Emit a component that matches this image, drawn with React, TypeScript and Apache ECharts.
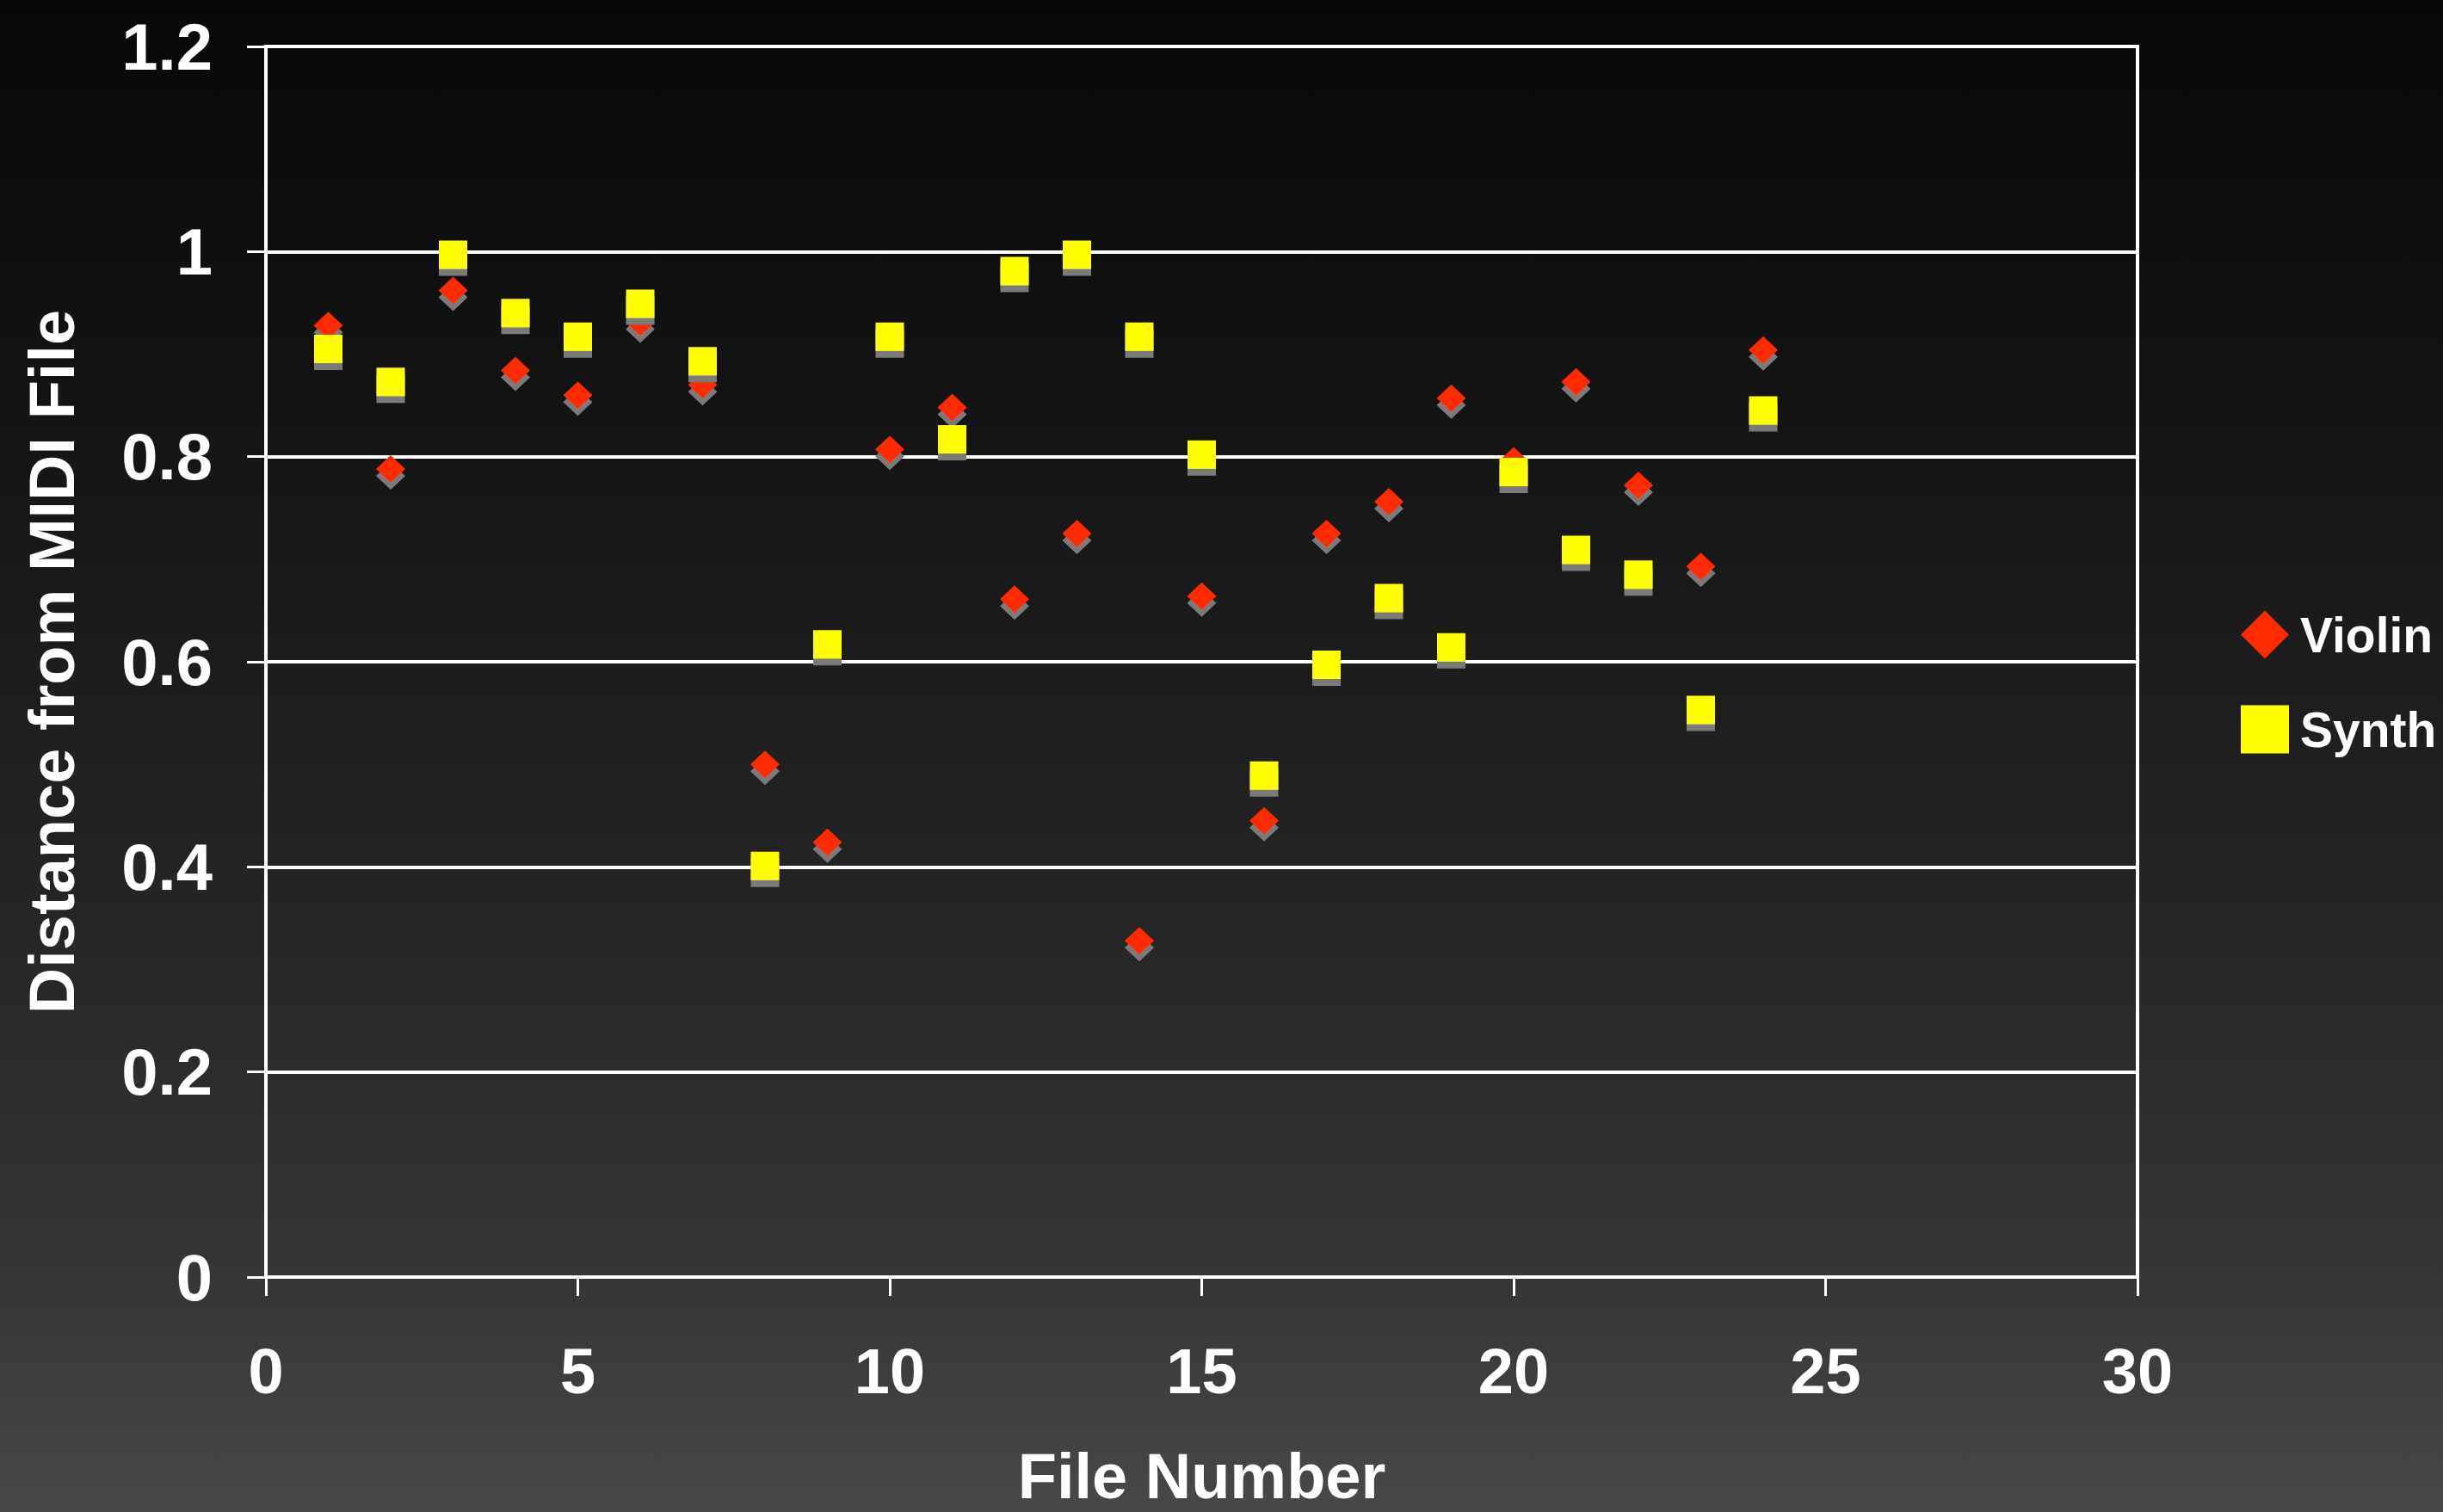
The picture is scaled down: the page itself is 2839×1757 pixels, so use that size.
import React, { useEffect, useRef } from "react";
import * as echarts from "echarts";

const fileNumbers = [1, 2, 3, 4, 5, 6, 7, 8, 9, 10, 11, 12, 13, 14, 15, 16, 17, 18, 19, 20, 21, 22, 23, 24];
const violin = [0.928, 0.788, 0.962, 0.884, 0.86, 0.931, 0.87, 0.5, 0.424, 0.807, 0.848, 0.661, 0.725, 0.328, 0.664, 0.445, 0.725, 0.756, 0.857, 0.796, 0.873, 0.772, 0.693, 0.904];
const synth = [0.905, 0.873, 0.997, 0.94, 0.917, 0.949, 0.893, 0.401, 0.617, 0.917, 0.817, 0.981, 0.997, 0.917, 0.802, 0.489, 0.597, 0.662, 0.614, 0.785, 0.709, 0.685, 0.553, 0.845];
const seriesNames = ["Violin", "Synth"];
const xAxisTitle = "File Number";
const yAxisTitle = "Distance from MIDI File";

const FONT = '"Liberation Sans", Arial, Helvetica, sans-serif';

export default function App() {
  const ref = useRef<HTMLDivElement>(null);
  useEffect(() => {
    document.body.style.margin = "0";
    if (!ref.current) return;
    const chart = echarts.init(ref.current, null, { renderer: "svg" });
    const textStyle = { color: "#ffffff", fontFamily: FONT, fontWeight: "bold" as const };
    chart.setOption({
      animation: false,
      backgroundColor: {
        type: "linear",
        x: 0, y: 0, x2: 0, y2: 1,
        colorStops: [
          { offset: 0, color: "#080808" },
          { offset: 0.3, color: "#151515" },
          { offset: 0.6, color: "#252525" },
          { offset: 0.85, color: "#363636" },
          { offset: 1, color: "#484848" },
        ],
      },
      grid: {
        left: 309, top: 54, width: 2175, height: 1432,
        show: true, borderColor: "#ffffff", borderWidth: 4, backgroundColor: "transparent",
      },
      legend: {
        orient: "vertical",
        left: 2599, top: 704,
        itemWidth: 56, itemHeight: 56, itemGap: 53,
        textStyle: { ...textStyle, fontSize: 57, padding: [0, 0, 0, 8] },
        itemStyle: { opacity: 1 },
        data: [
          { name: seriesNames[0], icon: "diamond" },
          { name: seriesNames[1], icon: "rect" },
        ],
      },
      xAxis: {
        type: "value", min: 0, max: 30, interval: 5,
        name: xAxisTitle, nameLocation: "middle", nameGap: 194,
        nameTextStyle: { ...textStyle, fontSize: 74 },
        axisLine: { show: true, lineStyle: { color: "#ffffff", width: 4 } },
        axisTick: { show: true, length: 22, lineStyle: { color: "#ffffff", width: 3 } },
        axisLabel: { ...textStyle, fontSize: 74, margin: 72 },
        splitLine: { show: false },
      },
      yAxis: {
        type: "value", min: 0, max: 1.2, interval: 0.2,
        name: yAxisTitle, nameLocation: "middle", nameGap: 212,
        nameTextStyle: { ...textStyle, fontSize: 74 },
        axisLine: { show: true, lineStyle: { color: "#ffffff", width: 4 } },
        axisTick: { show: true, length: 22, lineStyle: { color: "#ffffff", width: 3 } },
        axisLabel: { ...textStyle, fontSize: 76, margin: 62, formatter: (v: number) => String(Math.round(v * 10) / 10) },
        splitLine: { show: true, lineStyle: { color: "#ffffff", width: 4 } },
      },
      series: [
        {
          name: seriesNames[0], type: "scatter", symbol: "diamond", symbolSize: [34, 32],
          itemStyle: { color: "#ff2a00", opacity: 1, shadowColor: "#7a7a7a", shadowOffsetY: 8, shadowBlur: 0 },
          data: fileNumbers.map((x, i) => [x, violin[i]]),
          z: 2,
        },
        {
          name: seriesNames[1], type: "scatter", symbol: "rect", symbolSize: 33,
          itemStyle: { color: "#ffff00", opacity: 1, shadowColor: "#7a7a7a", shadowOffsetY: 8, shadowBlur: 0 },
          data: fileNumbers.map((x, i) => [x, synth[i]]),
          z: 3,
        },
      ],
    });
    return () => chart.dispose();
  }, []);
  return <div ref={ref} style={{ width: 2839, height: 1757 }} />;
}
